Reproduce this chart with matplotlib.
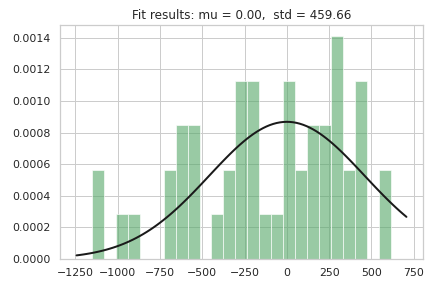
import numpy as np
import matplotlib
matplotlib.use('Agg')
import matplotlib.pyplot as plt
import seaborn as sns

# histogram: 25 bins, 100 samples
bin_lo = -1155.0
bin_hi = 618.0
counts = [4, 0, 2, 2, 0, 0, 4, 6, 6, 0, 2, 4, 8, 8, 2, 2, 8, 4, 6, 6, 10, 4, 8, 0, 4]
mu = 0.00
std = 459.66

sns.set_theme(style='whitegrid', color_codes=True)
plt.rcParams['font.family'] = ['DejaVu Sans']

fig, ax = plt.subplots(figsize=(6, 4), dpi=72)

edges = np.linspace(bin_lo, bin_hi, len(counts) + 1)
centers = (edges[:-1] + edges[1:]) / 2
ax.hist(centers, bins=edges, weights=counts, density=True, alpha=0.6, color='g')

# normal pdf over the current x range
xmin, xmax = ax.get_xlim()
x = np.linspace(xmin, xmax, 100)
p = np.exp(-0.5 * ((x - mu) / std) ** 2) / (std * np.sqrt(2 * np.pi))
ax.plot(x, p, 'k', linewidth=2)

ax.set_title("Fit results: mu = %.2f,  std = %.2f" % (mu, std), fontsize=12)
ax.tick_params(labelsize=11)

fig.subplots_adjust(left=0.139, right=0.979, top=0.913, bottom=0.101)
fig.savefig('out.png')
